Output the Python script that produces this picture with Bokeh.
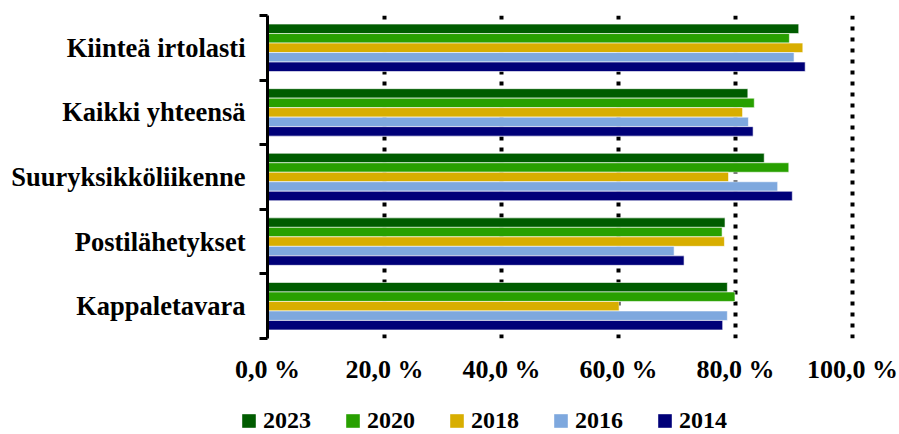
from bokeh.plotting import figure
from bokeh.models import Range1d, FixedTicker, ColumnDataSource, Legend, LegendItem
from bokeh.layouts import column
from bokeh.transform import dodge
from bokeh.embed import file_html
from bokeh.resources import INLINE

categories = ["Kiinteä irtolasti", "Kaikki yhteensä", "Suuryksikköliikenne",
              "Postilähetykset", "Kappaletavara"]
years = ["2023", "2020", "2018", "2016", "2014"]
v2023 = [90.8, 82.1, 84.9, 78.2, 78.6]
v2020 = [89.2, 83.2, 89.1, 77.7, 79.9]
v2018 = [91.5, 81.2, 78.8, 78.1, 60.1]
v2016 = [90.0, 82.2, 87.2, 69.5, 78.6]
v2014 = [91.9, 83.0, 89.7, 71.2, 77.8]
x_ticks = [0, 20, 40, 60, 80, 100]
x_tick_labels = ["0,0 %", "20,0 %", "40,0 %", "60,0 %", "80,0 %", "100,0 %"]

colors = ["#005C00", "#28A000", "#D8AE00", "#7EA8DE", "#000078"]
FONT = "Liberation Serif"

n = len(categories)
centers = [n - i - 0.5 for i in range(n)]
data = {"y": centers}
for yr, vals in zip(years, [v2023, v2020, v2018, v2016, v2014]):
    data["y" + yr] = vals
src = ColumnDataSource(data)

p = figure(width=899, height=392, output_backend="svg", toolbar_location=None,
           x_range=Range1d(0, 100.5), y_range=Range1d(0, n),
           min_border_left=267, min_border_right=44, min_border_top=15,
           min_border_bottom=54)
p.outline_line_color = None
p.frame_align = False

bh = 0.147
for k, (yr, col) in enumerate(zip(years, colors)):
    off = (2 - k) * bh
    p.hbar(y=dodge("y", off), left=0, right="y" + yr,
           height=bh, source=src, fill_color=col, line_color="white",
           line_width=0.6)

# y axis
ya = p.yaxis[0]
ya.ticker = FixedTicker(ticks=centers, minor_ticks=list(range(n + 1)))
ya.major_label_overrides = {c: cat for c, cat in zip(centers, categories)}
ya.major_tick_in = 0
ya.major_tick_out = 0
ya.minor_tick_in = 0
ya.minor_tick_out = 8
ya.minor_tick_line_width = 3
ya.minor_tick_line_color = "black"
ya.axis_line_width = 3
ya.axis_line_color = "black"
ya.major_label_standoff = 14
ya.major_label_text_font = FONT
ya.major_label_text_font_style = "bold"
ya.major_label_text_font_size = "26.5px"
ya.major_label_text_color = "black"

# x axis
xa = p.xaxis[0]
xa.ticker = FixedTicker(ticks=x_ticks, minor_ticks=[])
xa.major_label_overrides = {t: l for t, l in zip(x_ticks, x_tick_labels)}
xa.axis_line_color = None
xa.major_tick_line_color = None
xa.minor_tick_line_color = None
xa.major_label_standoff = 10
xa.major_label_text_font = FONT
xa.major_label_text_font_style = "bold"
xa.major_label_text_font_size = "26px"
xa.major_label_text_color = "black"

p.ygrid.grid_line_color = None
p.xgrid.ticker = FixedTicker(ticks=x_ticks[1:], minor_ticks=[])
p.xgrid.grid_line_color = "black"
p.xgrid.grid_line_width = 4
p.xgrid.grid_line_dash = "4 7"

# legend strip below the chart (its bars lie outside its visible range)
lf = figure(width=899, height=42, output_backend="svg", toolbar_location=None,
            x_range=Range1d(-2, -1), y_range=Range1d(0, n),
            x_axis_type=None, y_axis_type=None, min_border=0)
lf.outline_line_color = None
lf.frame_align = False
lf.xgrid.visible = False
lf.ygrid.visible = False
items = []
for yr, col in zip(years, colors):
    r = lf.hbar(y="y", left=0, right="y" + yr, height=bh, source=src,
                fill_color=col, line_color=None)
    items.append(LegendItem(label=yr, renderers=[r]))
legend = Legend(items=items, orientation="horizontal", location=(240, 0),
                label_text_font=FONT, label_text_font_style="bold",
                label_text_font_size="24px", label_text_color="black",
                glyph_width=17, glyph_height=17, label_standoff=6, spacing=33,
                border_line_color=None, background_fill_alpha=0,
                padding=0, margin=0)
lf.add_layout(legend, "center")

open("out.html", "w").write(file_html(column(p, lf), INLINE))
